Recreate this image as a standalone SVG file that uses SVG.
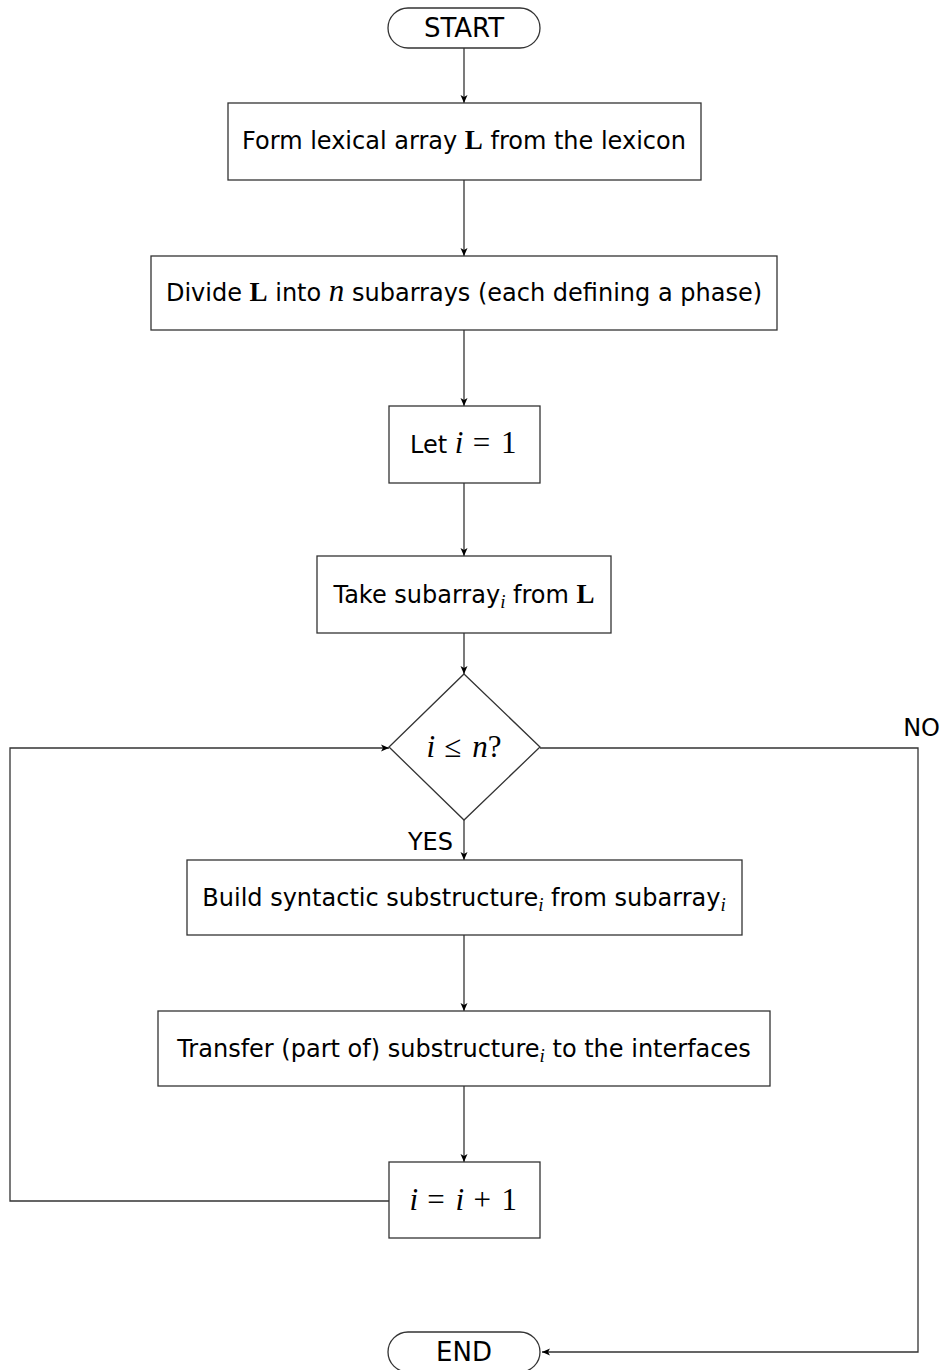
<svg xmlns="http://www.w3.org/2000/svg" width="942" height="1370" viewBox="0 0 942 1370">
<style>
.box{fill:#fff;stroke:#333;stroke-width:1.3}
.ln{fill:none;stroke:#333;stroke-width:1.3}
.t{font-family:"DejaVu Sans","Liberation Sans",sans-serif;font-size:24px;fill:#000;text-anchor:middle}
.tt{font-size:26px}
.m{font-family:"Liberation Serif","DejaVu Serif",serif;font-style:italic;font-size:31px}
.b{font-family:"Liberation Serif","DejaVu Serif",serif;font-weight:bold;font-size:27px}
.s{font-size:19px}
.r{font-family:"Liberation Serif","DejaVu Serif",serif;font-size:31px}
.w{letter-spacing:1.5px}
</style>
<defs>
<marker id="ah" markerWidth="10" markerHeight="8" refX="8" refY="4" orient="auto" markerUnits="userSpaceOnUse">
<path d="M0,0.5 L8,4 L0,7.5 L2,4 Z" fill="#000"/>
</marker>
</defs>
<g id="connectors">
<path class="ln" d="M464,48 L464,103" marker-end="url(#ah)"/>
<path class="ln" d="M464,180 L464,256" marker-end="url(#ah)"/>
<path class="ln" d="M464,330 L464,406" marker-end="url(#ah)"/>
<path class="ln" d="M464,483 L464,556" marker-end="url(#ah)"/>
<path class="ln" d="M464,633 L464,674" marker-end="url(#ah)"/>
<path class="ln" d="M464,820 L464,860" marker-end="url(#ah)"/>
<path class="ln" d="M464,935 L464,1011" marker-end="url(#ah)"/>
<path class="ln" d="M464,1086 L464,1162" marker-end="url(#ah)"/>
<path class="ln" d="M389,1201 L10,1201 L10,748 L389,748" marker-end="url(#ah)"/>
<path class="ln" d="M540,748 L918,748 L918,1352 L542,1352" marker-end="url(#ah)"/>
<text class="t" x="940" y="736" style="text-anchor:end">NO</text>
<text class="t" x="453" y="850" style="text-anchor:end">YES</text>
</g>
<g id="start">
<rect class="box" x="388" y="8" width="152" height="40" rx="20" ry="20"/>
<text class="t tt" x="464" y="37">START</text>
</g>
<g id="form">
<rect class="box" x="228" y="103" width="473" height="77"/>
<text class="t" x="464" y="149">Form lexical array <tspan class="b">L</tspan> from the lexicon</text>
</g>
<g id="divide">
<rect class="box" x="151" y="256" width="626" height="74"/>
<text class="t" x="464" y="301">Divide <tspan class="b">L</tspan> into <tspan class="m">n</tspan> subarrays (each defining a phase)</text>
</g>
<g id="let">
<rect class="box" x="389" y="406" width="151" height="77"/>
<text class="t" x="464" y="453">Let <tspan class="m">i</tspan><tspan class="r w"> = 1</tspan></text>
</g>
<g id="take">
<rect class="box" x="317" y="556" width="294" height="77"/>
<text class="t" x="464" y="603">Take subarray<tspan class="m s" dy="5">i</tspan><tspan dy="-5"> from </tspan><tspan class="b">L</tspan></text>
</g>
<g id="decision">
<polygon class="box" points="464,674 540,747 464,820 389,747"/>
<text class="t" x="464" y="757"><tspan class="m">i</tspan><tspan class="r w"> ≤ </tspan><tspan class="m">n</tspan><tspan class="r">?</tspan></text>
</g>
<g id="build">
<rect class="box" x="187" y="860" width="555" height="75"/>
<text class="t" x="464" y="906">Build syntactic substructure<tspan class="m s" dy="5">i</tspan><tspan dy="-5"> from subarray</tspan><tspan class="m s" dy="5">i</tspan></text>
</g>
<g id="transfer">
<rect class="box" x="158" y="1011" width="612" height="75"/>
<text class="t" x="464" y="1057">Transfer (part of) substructure<tspan class="m s" dy="5">i</tspan><tspan dy="-5"> to the interfaces</tspan></text>
</g>
<g id="incr">
<rect class="box" x="389" y="1162" width="151" height="76"/>
<text class="t" x="464" y="1210"><tspan class="m">i</tspan><tspan class="r w"> = </tspan><tspan class="m">i</tspan><tspan class="r w"> + 1</tspan></text>
</g>
<g id="end">
<rect class="box" x="388" y="1332" width="152" height="40" rx="20" ry="20"/>
<text class="t tt" x="464" y="1361">END</text>
</g>
</svg>
